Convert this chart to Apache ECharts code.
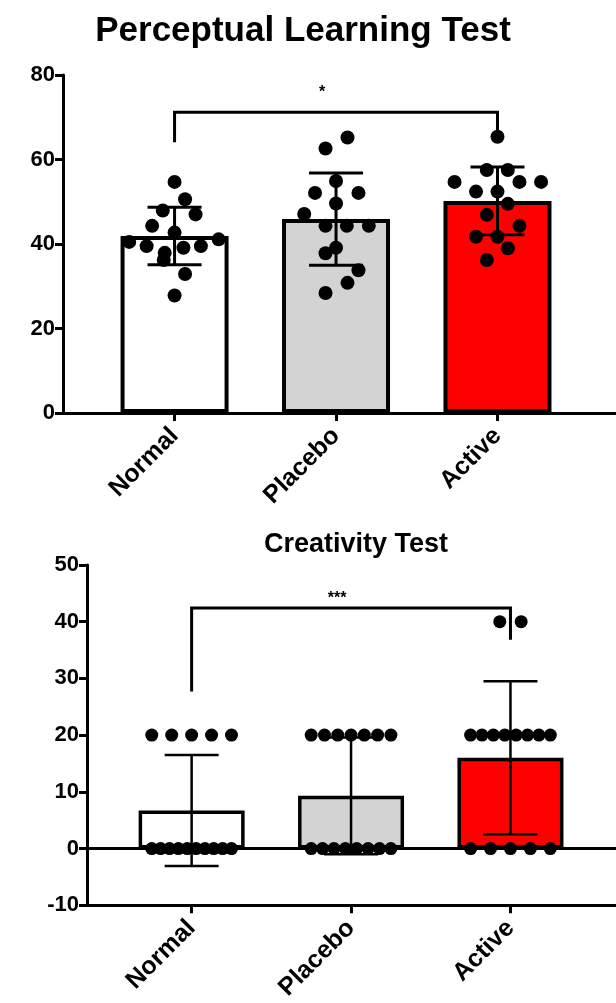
<!DOCTYPE html>
<html>
<head>
<meta charset="utf-8">
<script src="https://cdn.jsdelivr.net/npm/echarts@6/dist/echarts.min.js"></script>
<style>
  html, body { margin: 0; padding: 0; background: #fff; }
  #chart { width: 616px; height: 1003px; }
</style>
</head>
<body>
<div id="chart"></div>
<script>
const categories = ['Normal', 'Placebo', 'Active']
const barColors = ['#ffffff', '#d3d3d3', '#ff0000']

// Perceptual Learning Test
const plMean = [41.9, 45.9, 50.2]
const plSD = [6.8, 10.9, 8.0]
const plNormal = [54.7, 50.6, 47.9, 47.0, 44.3, 42.7, 40.5, 39.5, 41.1, 39.1, 39.5, 37.9, 36.2, 32.9, 27.8]
const plNormalJitter = [0, 0.065, -0.073, 0.13, -0.139, 0, -0.281, -0.173, 0.273, 0.055, 0.163, -0.061, -0.067, 0.065, 0]
const plPlacebo = [65.2, 62.6, 54.9, 52.1, 52.1, 49.6, 47.1, 44.3, 44.3, 44.3, 39.1, 37.8, 33.8, 30.8, 28.4]
const plPlaceboJitter = [0.071, -0.065, 0, -0.13, 0.139, 0, -0.197, -0.065, 0.067, 0.203, 0, -0.065, 0.139, 0.071, -0.065]
const plActive = [65.4, 57.5, 57.5, 54.7, 54.7, 54.7, 52.4, 52.4, 49.5, 46.9, 44.3, 41.7, 41.7, 39.0, 36.2]
const plActiveJitter = [0, -0.066, 0.064, -0.266, 0.136, 0.27, -0.133, 0, 0.064, -0.066, 0.136, -0.133, 0, 0.064, -0.066]
const plBracket = [71.2, 64.1, 66.5] // top, left leg end, right leg end
const plStars = '*'

// Creativity Test
const crMean = [6.7, 9.3, 16.0]
const crSD = [9.8, 10.3, 13.5]
const crNormal = [20, 20, 20, 20, 20, 0, 0, 0, 0, 0, 0, 0, 0, 0, 0]
const crPlacebo = [20, 20, 20, 20, 20, 20, 20, 0, 0, 0, 0, 0, 0, 0, 0]
const crActive = [40, 40, 20, 20, 20, 20, 20, 20, 20, 20, 0, 0, 0, 0, 0]
const crBracket = [42.4, 27.7, 36.8]
const crStars = '***'

const FONT = '"Liberation Sans", Arial, sans-serif'

// lay equal values out in a row, like the plotting program does
function rowJitter(values) {
  const groups = {}
  values.forEach((v, i) => { (groups[v] = groups[v] || []).push(i) })
  const out = new Array(values.length).fill(0)
  Object.values(groups).forEach((idx) => {
    const n = idx.length
    const step = n > 1 ? Math.min(0.134, 0.5 / (n - 1)) : 0
    idx.forEach((k, j) => { out[k] = (j - (n - 1) / 2) * step })
  })
  return out
}

function dots(values, jitter, cat) {
  return values.map((v, i) => [cat + 1 + jitter[i], v])
}

function errorSeries(gridIdx, mean, sd, lw, cap) {
  return {
    type: 'custom',
    xAxisIndex: gridIdx, yAxisIndex: gridIdx,
    z: 5,
    silent: true,
    data: mean.map((m, i) => [i + 1, m - sd[i], m + sd[i]]),
    encode: { x: 0, y: [1, 2] },
    renderItem(params, api) {
      const x = api.value(0)
      const hi = api.coord([x, api.value(2)])
      const lo = api.coord([x, api.value(1)])
      const st = { stroke: '#000', lineWidth: lw }
      return {
        type: 'group',
        children: [
          { type: 'line', shape: { x1: hi[0], y1: hi[1], x2: lo[0], y2: lo[1] }, style: st },
          { type: 'line', shape: { x1: hi[0] - cap, y1: hi[1], x2: hi[0] + cap, y2: hi[1] }, style: st },
          { type: 'line', shape: { x1: lo[0] - cap, y1: lo[1], x2: lo[0] + cap, y2: lo[1] }, style: st },
        ],
      }
    },
  }
}

function bracketSeries(gridIdx, br, stars, starGap, starSize) {
  return {
    type: 'custom',
    xAxisIndex: gridIdx, yAxisIndex: gridIdx,
    z: 6,
    silent: true,
    data: [[1, 3, br[0], br[1], br[2]]],
    renderItem(params, api) {
      const tl = api.coord([api.value(0), api.value(2)])
      const tr = api.coord([api.value(1), api.value(2)])
      const bl = api.coord([api.value(0), api.value(3)])
      const brp = api.coord([api.value(1), api.value(4)])
      return {
        type: 'group',
        children: [
          {
            type: 'polyline',
            shape: { points: [bl, tl, tr, brp] },
            style: { stroke: '#000', lineWidth: 3, fill: null },
          },
          {
            type: 'text',
            x: (tl[0] + tr[0]) / 2 - 14,
            y: tl[1] - starGap,
            style: {
              text: stars, fill: '#000', font: 'bold ' + starSize + 'px ' + FONT,
              align: 'center', verticalAlign: 'bottom',
            },
          },
        ],
      }
    },
  }
}

function xAxisCfg(gridIdx, min, max, labelSize) {
  return {
    gridIndex: gridIdx,
    type: 'value',
    min, max,
    axisLine: { show: true, onZero: false, lineStyle: { color: '#000', width: 3 } },
    axisTick: { show: true, customValues: [1, 2, 3], length: 8, lineStyle: { color: '#000', width: 3 } },
    axisLabel: {
      customValues: [1, 2, 3],
      formatter: (v) => categories[Math.round(v) - 1],
      rotate: 45, margin: 19,
      color: '#000', fontWeight: 'bold', fontSize: labelSize, fontFamily: FONT,
    },
    splitLine: { show: false },
  }
}

function yAxisCfg(gridIdx, min, max, interval) {
  return {
    gridIndex: gridIdx,
    type: 'value',
    min, max, interval,
    axisLine: { show: true, onZero: false, lineStyle: { color: '#000', width: 3 } },
    axisTick: { show: true, length: 8, lineStyle: { color: '#000', width: 3 } },
    axisLabel: { color: '#000', fontWeight: 'bold', fontSize: 22, fontFamily: FONT, margin: 8 },
    splitLine: { show: false },
  }
}

const chart = echarts.init(document.getElementById('chart'), null, { renderer: 'canvas' })

const crNormalJ = rowJitter(crNormal)
const crPlaceboJ = rowJitter(crPlacebo)
const crActiveJ = rowJitter(crActive)

chart.setOption({
  animation: false,
  backgroundColor: '#fff',
  graphic: [
    {
      type: 'text', x: 303, y: 31,
      style: { text: 'Perceptual Learning Test', fill: '#000', font: 'bold 35px ' + FONT, align: 'center', verticalAlign: 'middle' },
    },
    {
      type: 'text', x: 356, y: 545,
      style: { text: 'Creativity Test', fill: '#000', font: 'bold 27px ' + FONT, align: 'center', verticalAlign: 'middle' },
    },
  ],
  grid: [
    { left: 63, top: 75, width: 560, height: 338 },
    { left: 87, top: 565, width: 536, height: 341 },
  ],
  xAxis: [
    xAxisCfg(0, 0.309, 3.734, 25),
    xAxisCfg(1, 0.3437, 3.662, 25),
  ],
  yAxis: [
    yAxisCfg(0, 0, 80, 20),
    yAxisCfg(1, -10, 50, 10),
  ],
  series: [
    {
      type: 'bar', xAxisIndex: 0, yAxisIndex: 0,
      barWidth: 108,
      data: plMean.map((m, i) => ({ value: [i + 1, m], itemStyle: { color: barColors[i] } })),
      itemStyle: { borderColor: '#000', borderWidth: 4 },
      silent: true,
    },
    {
      type: 'scatter', xAxisIndex: 0, yAxisIndex: 0, z: 4,
      symbolSize: 14, itemStyle: { color: '#000', opacity: 1 },
      data: [].concat(dots(plNormal, plNormalJitter, 0), dots(plPlacebo, plPlaceboJitter, 1), dots(plActive, plActiveJitter, 2)),
      silent: true,
    },
    errorSeries(0, plMean, plSD, 3, 27),
    bracketSeries(0, plBracket, plStars, 12, 16),

    {
      type: 'bar', xAxisIndex: 1, yAxisIndex: 1,
      barWidth: 106,
      data: crMean.map((m, i) => ({ value: [i + 1, m], itemStyle: { color: barColors[i] } })),
      itemStyle: { borderColor: '#000', borderWidth: 3.5 },
      markLine: {
        silent: true, symbol: 'none', label: { show: false },
        lineStyle: { color: '#000', width: 3, type: 'solid' },
        data: [{ yAxis: 0 }],
      },
      silent: true,
    },
    {
      type: 'scatter', xAxisIndex: 1, yAxisIndex: 1, z: 4,
      symbolSize: 13, itemStyle: { color: '#000', opacity: 1 },
      data: [].concat(dots(crNormal, crNormalJ, 0), dots(crPlacebo, crPlaceboJ, 1), dots(crActive, crActiveJ, 2)),
      silent: true,
    },
    errorSeries(1, crMean, crSD, 2.5, 27),
    bracketSeries(1, crBracket, crStars, 2, 16),
  ],
})
</script>
</body>
</html>
